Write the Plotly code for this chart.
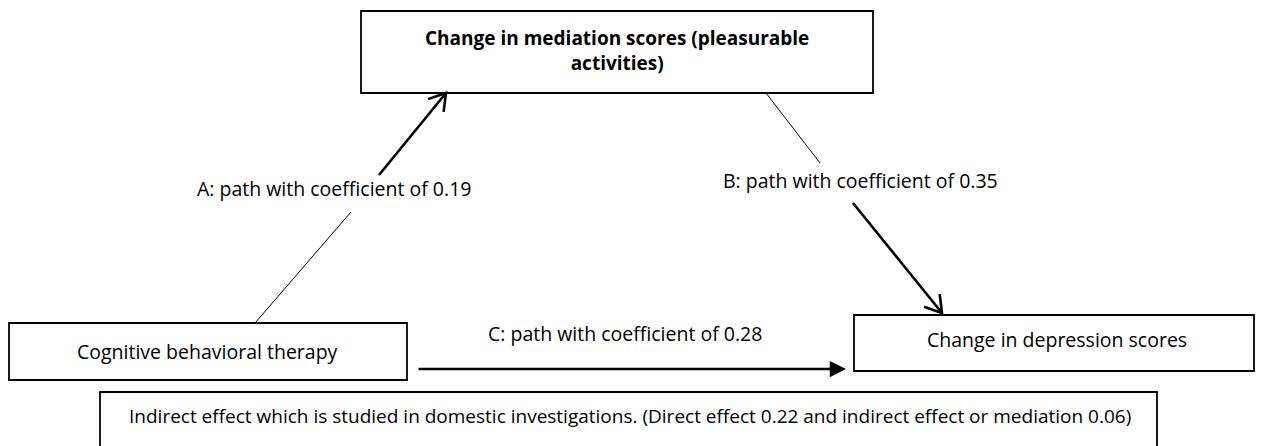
import math
import plotly.graph_objects as go

# --- diagram data -------------------------------------------------------
# boxes: (x0, y0, x1, y1) in pixel-like diagram units (y downward)
box_names = ["mediator", "cbt", "depression", "note"]
box_x0 = [361, 9, 854, 100]
box_y0 = [11, 323, 315, 392]
box_x1 = [873, 407, 1254, 1157]
box_y1 = [93, 380, 371, 470]
box_labels = [
    "<b>Change in mediation scores (pleasurable<br>activities)</b>",
    "Cognitive behavioral therapy",
    "Change in depression scores",
    "Indirect effect which is studied in domestic investigations. (Direct effect 0.22 and indirect effect or mediation 0.06)",
]
box_label_x = [617, 207, 1057, 630]
box_label_y = [50, 351, 339, 416]

# path labels
path_labels = [
    "A: path with coefficient of 0.19",
    "B: path with coefficient of 0.35",
    "C: path with coefficient of 0.28",
]
path_label_x = [334, 860, 625]
path_label_y = [188, 180, 333]

# thin connector segments (x0, y0, x1, y1)
thin_x0 = [255, 766]
thin_y0 = [323, 93]
thin_x1 = [351, 820]
thin_y1 = [212, 163]

# open-headed arrows (A, B): tail -> head
open_tail_x = [379, 853]
open_tail_y = [175, 203]
open_head_x = [446, 942]
open_head_y = [93, 313]

# filled-headed arrow (C): tail -> head
c_tail_x, c_tail_y = 417, 369
c_head_x, c_head_y = 846, 369

W, H = 1266, 446
OFF = 8  # default page margin

fig = go.Figure()
fig.add_trace(go.Scatter(x=[OFF, W], y=[OFF, H], mode="markers",
                         marker=dict(opacity=0), hoverinfo="skip", showlegend=False))

for x0, y0, x1, y1 in zip(box_x0, box_y0, box_x1, box_y1):
    fig.add_shape(type="rect", x0=x0, y0=y0, x1=x1, y1=y1, xref="x", yref="y",
                  line=dict(color="black", width=1.8), fillcolor="white", layer="below")

for x0, y0, x1, y1 in zip(thin_x0, thin_y0, thin_x1, thin_y1):
    fig.add_shape(type="line", x0=x0, y0=y0, x1=x1, y1=y1, xref="x", yref="y",
                  line=dict(color="black", width=1))

ARM = 19
ANG = math.radians(32)
for tx, ty, hx, hy in zip(open_tail_x, open_tail_y, open_head_x, open_head_y):
    fig.add_shape(type="line", x0=tx, y0=ty, x1=hx, y1=hy, xref="x", yref="y",
                  line=dict(color="black", width=2.6))
    back = math.atan2(ty - hy, tx - hx)
    p1 = (hx + ARM * math.cos(back + ANG), hy + ARM * math.sin(back + ANG))
    p2 = (hx + ARM * math.cos(back - ANG), hy + ARM * math.sin(back - ANG))
    path = f"M {p1[0]:.2f},{p1[1]:.2f} L {hx},{hy} L {p2[0]:.2f},{p2[1]:.2f}"
    fig.add_shape(type="path", path=path, xref="x", yref="y",
                  line=dict(color="black", width=2.6))

fig.add_annotation(x=c_head_x, y=c_head_y, ax=c_tail_x, ay=c_tail_y,
                   xref="x", yref="y", axref="x", ayref="y",
                   text="", showarrow=True, arrowhead=2, arrowsize=1.3,
                   arrowwidth=2.5, arrowcolor="black", standoff=0)

main_font = "Open Sans, Noto Sans, DejaVu Sans, sans-serif"
for i, (t, x, y) in enumerate(zip(box_labels, box_label_x, box_label_y)):
    if i == 3:
        f = dict(family=main_font, size=19, color="black")
    elif i == 0:
        f = dict(family=main_font, size=19, color="black")
    else:
        f = dict(family=main_font, size=19.5, color="black")
    fig.add_annotation(x=x, y=y, text=t, showarrow=False, xref="x", yref="y",
                       xanchor="center", yanchor="middle", font=f, align="center")

for t, x, y in zip(path_labels, path_label_x, path_label_y):
    fig.add_annotation(x=x, y=y, text=t, showarrow=False, xref="x", yref="y",
                       xanchor="center", yanchor="middle",
                       font=dict(family=main_font, size=19.5, color="black"))

fig.update_xaxes(range=[OFF, W], visible=False, fixedrange=True)
fig.update_yaxes(range=[H, OFF], visible=False, fixedrange=True)
fig.update_layout(width=W - OFF, height=H - OFF, margin=dict(l=0, r=0, t=0, b=0),
                  plot_bgcolor="white", paper_bgcolor="white", showlegend=False)

fig.write_html("out.html", config={"displayModeBar": False})
